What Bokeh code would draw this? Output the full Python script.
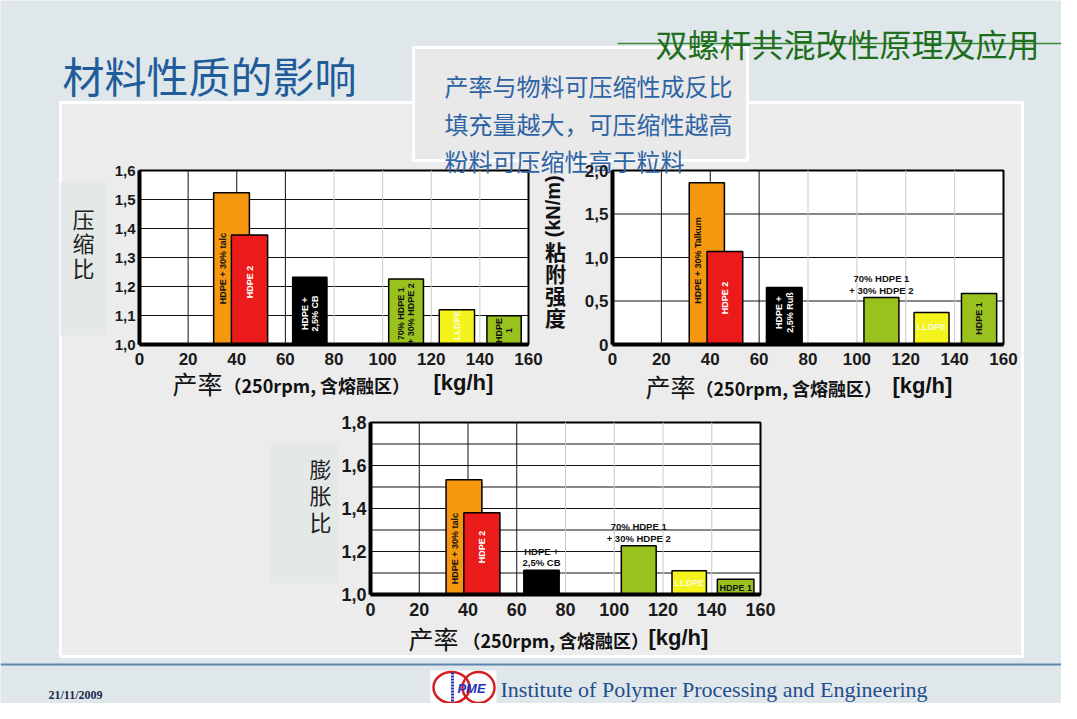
import math
from bokeh.plotting import figure
from bokeh.models import Range1d, LinearAxis, FixedTicker, CustomJSTickFormatter
from bokeh.core.properties import value
from bokeh.embed import file_html
from bokeh.resources import INLINE

# ---------------- data ----------------
x_ticks = [0, 20, 40, 60, 80, 100, 120, 140, 160]
bar_colors = ["#f5980f", "#ec1b1b", "#000000", "#99c21f", "#f4f41c", "#99c21f"]

# chart 1: compression ratio
c1_left = [30.5, 37.8, 63.0, 102.5, 123.3, 142.9]
c1_right = [45.2, 52.7, 77.1, 116.8, 137.8, 157.0]
c1_vals = [1.523, 1.378, 1.232, 1.226, 1.120, 1.099]
c1_yticks = [1.0, 1.1, 1.2, 1.3, 1.4, 1.5, 1.6]
c1_labels = ["HDPE + 30% talc", "HDPE 2", "HDPE +\n2,5% CB", "70% HDPE 1\n+ 30% HDPE 2", "LLDPE", "HDPE\n1"]

# chart 2: adhesion strength
c2_left = [31.4, 38.7, 63.0, 102.9, 123.4, 142.8]
c2_right = [45.8, 53.3, 77.6, 117.2, 137.7, 157.2]
c2_vals = [1.858, 1.069, 0.655, 0.540, 0.368, 0.586]
c2_yticks = [0.0, 0.5, 1.0, 1.5, 2.0]
c2_labels = ["HDPE + 30% Talkum", "HDPE 2", "HDPE +\n2,5% Ruß", "70% HDPE 1\n+ 30% HDPE 2", "LLDPE", "HDPE 1"]

# chart 3: swelling ratio
c3_left = [31.0, 38.3, 62.9, 102.9, 123.7, 142.3]
c3_right = [45.7, 53.1, 77.4, 117.2, 137.8, 157.3]
c3_vals = [1.534, 1.380, 1.113, 1.227, 1.111, 1.071]
c3_yticks = [1.0, 1.2, 1.4, 1.6, 1.8]
c3_grid = [1.1, 1.2, 1.3, 1.4, 1.5, 1.6, 1.7]
c3_labels = ["HDPE + 30% talc", "HDPE 2", "HDPE +\n2,5% CB", "70% HDPE 1\n+ 30% HDPE 2", "LLDPE", "HDPE 1"]

title = "材料性质的影响"
header = "双螺杆共混改性原理及应用"
notes = ["产率与物料可压缩性成反比", "填充量越大，可压缩性越高", "粉料可压缩性高于粒料"]
c1_ytitle, c2_ytitle, c2_yunit, c3_ytitle = "压缩比", "粘附强度", "(kN/m)", "膨胀比"
xtitle_a, xtitle_b, xtitle_c = "产率", "（250rpm, 含熔融区）", "[kg/h]"

# ---------------- styles ----------------
CJK = "Noto Sans CJK SC"
LAT = "Liberation Sans"
NARROW = "Liberation Sans Narrow, Liberation Sans"
SLIDE_BG = "#dfe7eb"
PANEL_BG = "#ececec"

CX0, CX1, CY0, CY1 = 0, 1061, 0, 703
p = figure(width=1061, height=703, x_range=Range1d(CX0, CX1), y_range=Range1d(CY1, CY0),
           x_axis_type=None, y_axis_type=None, toolbar_location=None, output_backend="svg",
           min_border=0, background_fill_color=SLIDE_BG, border_fill_color=SLIDE_BG,
           outline_line_color=None)


def txt(x, y, t, size, color="#111111", font=CJK, style="normal", align="left",
        baseline="middle", angle=0.0, lh=1.2, **kw):
    p.text(x=[x], y=[y], text=[t], text_font=value(font), text_font_size=size,
           text_font_style=style, text_color=color, text_align=align,
           text_baseline=baseline, angle=angle, text_line_height=lh, **kw)


def vtxt(x, y0, step, t, size, color="#111111", style="normal"):
    # vertically stacked CJK characters
    for k, ch in enumerate(t):
        txt(x, y0 + k * step, ch, size, color=color, style=style, align="center")


# slide decoration
p.quad(left=[60], right=[1022], top=[102], bottom=[656], fill_color=PANEL_BG,
       line_color="white", line_width=3)
txt(62, 74, title, "42px", color="#1f5c99")
# y-title backing boxes
p.quad(left=[60], right=[105], top=[182], bottom=[335], fill_color="#e4e9e8", line_color=None)
p.quad(left=[270], right=[338], top=[443], bottom=[583], fill_color="#e4e9e8", line_color=None)

fmt_code = 'return tick === 0 ? "0" : tick.toFixed(1).replace(".", ",");'


def chart(name, left, right, vals, yticks, hgrid, labels, geo, modes, fracs, lab_colors,
          ytick_size, xtick_size):
    px0, px160, py_lo, py_hi = geo
    ylo, yhi = yticks[0], yticks[-1]
    sx = (px160 - px0) / 160.0
    sy = (py_lo - py_hi) / (yhi - ylo)
    xn, yn = name + "x", name + "y"
    p.extra_x_ranges[xn] = Range1d(0 - (px0 - CX0) / sx, 160 + (CX1 - px160) / sx)
    p.extra_y_ranges[yn] = Range1d(ylo - (CY1 - py_lo) / sy, yhi + (py_hi - CY0) / sy)
    kw = dict(x_range_name=xn, y_range_name=yn)
    # plot area
    p.quad(left=[x_ticks[0]], right=[x_ticks[-1]], bottom=[ylo], top=[yhi],
           fill_color="white", line_color="black", line_width=2, **kw)
    p.segment(x0=[x_ticks[0]] * len(hgrid), x1=[x_ticks[-1]] * len(hgrid), y0=hgrid, y1=hgrid,
              line_color="#111111", line_width=1, **kw)
    dark = [t for t in x_ticks[1:-1] if t <= 60]
    light = [t for t in x_ticks[1:-1] if t > 60]
    p.segment(x0=light, x1=light, y0=[ylo] * len(light), y1=[yhi] * len(light),
              line_color="#c8c8c8", line_width=1, **kw)
    p.segment(x0=dark, x1=dark, y0=[ylo] * len(dark), y1=[yhi] * len(dark),
              line_color="#111111", line_width=1, **kw)
    # bars
    p.quad(left=left, right=right, bottom=[ylo] * len(vals), top=vals,
           fill_color=bar_colors, line_color="black", line_width=1.5, **kw)
    # bar labels
    for i, t in enumerate(labels):
        xc = (left[i] + right[i]) / 2.0
        if i == 0:
            xc = (left[0] + left[1]) / 2.0
        m = modes[i]
        if m == "above":
            txt(xc, vals[i] + 2.0 / sy, t, "9.5px", color=lab_colors[i], font=NARROW,
                style="bold", align="center", baseline="bottom", lh=1.05, **kw)
        else:
            yc = ylo + fracs[i] * (vals[i] - ylo)
            txt(xc, yc, t, "9px", color=lab_colors[i], font=NARROW, style="bold",
                align="center", baseline="middle", lh=1.05,
                angle=(math.pi / 2 if m == "rot" else 0.0), **kw)
    # axes
    yax = LinearAxis(fixed_location=x_ticks[0], bounds=(ylo, yhi),
                     ticker=FixedTicker(ticks=yticks),
                     formatter=CustomJSTickFormatter(code=fmt_code), **kw)
    xax = LinearAxis(fixed_location=ylo, bounds=(x_ticks[0], x_ticks[-1]),
                     ticker=FixedTicker(ticks=x_ticks), **kw)
    for ax, size, so in ((yax, ytick_size, 4), (xax, xtick_size, 8)):
        ax.axis_line_width = 4
        ax.axis_line_color = "black"
        ax.major_tick_out = 0
        ax.major_tick_in = 0
        ax.minor_tick_out = 0
        ax.minor_tick_in = 0
        ax.major_label_standoff = so
        ax.major_label_text_font = LAT
        ax.major_label_text_font_style = "bold"
        ax.major_label_text_font_size = size
        ax.major_label_text_color = "#1a1a1a"
    p.add_layout(yax, "left")
    p.add_layout(xax, "below")


DK, WH, LY = "#111111", "#ffffff", "#fafad8"
chart("c1", c1_left, c1_right, c1_vals, c1_yticks, c1_yticks[1:-1], c1_labels,
      (139, 528, 344, 170), ["rot"] * 6, [0.5, 0.57, 0.46, 0.47, 0.55, 0.49],
      [DK, WH, WH, DK, LY, DK], "15px", "17px")
chart("c2", c2_left, c2_right, c2_vals, c2_yticks, c2_yticks[1:-1], c2_labels,
      (612, 1003, 344, 170), ["rot", "rot", "rot", "above", "flat", "rot"],
      [0.52, 0.5, 0.56, 0.0, 0.56, 0.51], [DK, WH, WH, DK, LY, DK], "17px", "17px")
chart("c3", c3_left, c3_right, c3_vals, c3_yticks, c3_grid, c3_labels,
      (370, 760, 594, 422), ["rot", "rot", "above", "above", "flat", "flat"],
      [0.40, 0.58, 0.0, 0.0, 0.5, 0.4], [DK, WH, DK, DK, LY, DK], "18px", "18px")

# axis titles
vtxt(83, 217, 24.5, c1_ytitle, "22px", color="#222222")
vtxt(555, 250, 22.3, c2_ytitle, "21px", style="bold")
txt(552, 237, c2_yunit, "20px", font=LAT, style="bold", angle=math.pi / 2, align="left")
vtxt(320, 467, 26.5, c3_ytitle, "22px", color="#222222")
for xa, xb, xc, yy in ((172, 223, 433, 382), (645, 695, 892, 385), (408, 462, 648, 637)):
    txt(xa, yy, xtitle_a, "25px")
    txt(xb, yy + 2, xtitle_b, "18px", style="bold")
    txt(xc, yy, xtitle_c, "22px", font=LAT, style="bold")

# note box
p.quad(left=[413], right=[747], top=[47], bottom=[160], fill_color="#e9e9e9",
       line_color="white", line_width=3)
for yy, t in zip([85, 123, 160], notes):
    txt(444, yy, t, "24px", color="#2e64a4")

# header (drawn over the note box)
p.segment(x0=[617], y0=[43], x1=[CX1], y1=[43], line_color="#3a8a3a", line_width=1.5)
txt(655, 42, header, "32px", color="#1e6e1e")

# footer
p.segment(x0=[CX0], y0=[664], x1=[CX1], y1=[664], line_color="#5a85b0", line_width=2)
txt(48, 694, "21/11/2009", "12px", color="#1a2a4a", font="Liberation Serif", style="bold")
p.quad(left=[430], right=[496], top=[670], bottom=[703], fill_color="white", line_color=None)
p.ellipse(x=[451, 478], y=[687, 687], width=[36, 32], height=[31, 31], fill_color=None,
          line_color="#d42020", line_width=2.5)
p.segment(x0=[452], y0=[672], x1=[452], y1=[702], line_color="#2233bb", line_width=3,
          line_dash="2 1")
txt(471, 688, "PME", "13px", color="#2233bb", font=LAT, style="bold italic", align="center")
txt(500, 701, "Institute of Polymer Processing and Engineering", "22px", color="#1f4e8c",
    font="Liberation Serif", baseline="bottom")

open("out.html", "w").write(file_html(p, INLINE))
